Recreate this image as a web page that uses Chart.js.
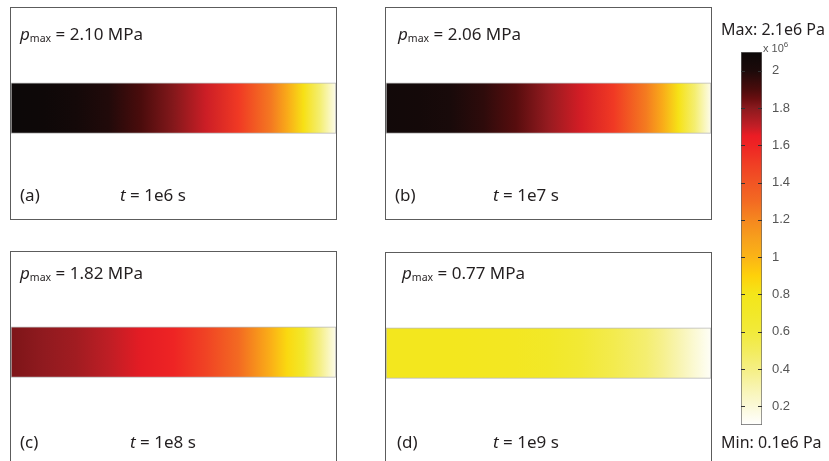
<!DOCTYPE html>
<html>
<head>
<meta charset="utf-8">
<script src="https://cdn.jsdelivr.net/npm/chart.js@4.4.1/dist/chart.umd.min.js"></script>
<style>
  body { margin: 0; background: #fff; }
  #wrap { position: relative; width: 829px; height: 461px; overflow: hidden; background: #fff; }
  .panel { position: absolute; border: 1px solid #5c5c5c; box-sizing: border-box; width: 327px; height: 213px; }
  .panel canvas { position: absolute; left: 0; top: 0; }
  .txt { position: absolute; white-space: nowrap; font-family: "Noto Sans", sans-serif; font-size: 17px;
         line-height: 20px; color: #231f20; }
  .txt sub { font-size: 10.5px; vertical-align: -2px; line-height: 0; }
  .cb { position: absolute; white-space: nowrap; font-family: "Liberation Sans", Arial, sans-serif; color: #555; }
</style>
</head>
<body>
<div id="wrap">
  <div class="panel" style="left:10px; top:7px;"><canvas id="ca" width="325" height="211"></canvas></div>
  <div class="panel" style="left:385px; top:7px;"><canvas id="cbb" width="325" height="211"></canvas></div>
  <div class="panel" style="left:10px; top:251px;"><canvas id="cc" width="325" height="211"></canvas></div>
  <div class="panel" style="left:385px; top:252px;"><canvas id="cd" width="325" height="211"></canvas></div>
  <canvas id="bar" width="94" height="400" style="position:absolute; left:735px; top:40px;"></canvas>
</div>
<script>
// data

// position along the strip (0 = left end, 1 = right end)
const positions = [0, 0.1, 0.2, 0.3, 0.4, 0.5, 0.6, 0.7, 0.8, 0.85, 0.9, 0.95, 1];

// pressure along the strip, x 1e6 Pa
const pressureA = [2.10, 2.09, 2.05, 1.99, 1.90, 1.81, 1.69, 1.52, 1.25, 1.05, 0.83, 0.45, 0.15];
const pressureB = [2.06, 2.05, 2.02, 1.96, 1.88, 1.78, 1.68, 1.52, 1.24, 1.05, 0.82, 0.45, 0.15];
const pressureC = [1.82, 1.79, 1.76, 1.71, 1.66, 1.60, 1.48, 1.30, 1.02, 0.86, 0.68, 0.40, 0.15];
const pressureD = [0.77, 0.77, 0.77, 0.76, 0.74, 0.70, 0.63, 0.54, 0.45, 0.38, 0.30, 0.21, 0.12];

const panelLetters = ["a", "b", "c", "d"];
const pmaxLabels = ["2.10", "2.06", "1.82", "0.77"];
const timeLabels = ["1e6", "1e7", "1e8", "1e9"];

// colour bar
const cbMin = 0.1;
const cbMax = 2.1;
const cbTicks = [0.2, 0.4, 0.6, 0.8, 1.0, 1.2, 1.4, 1.6, 1.8, 2.0];
const maxLabel = "Max: 2.1e6 Pa";
const minLabel = "Min: 0.1e6 Pa";

// colormap stops (value -> colour)
const cmapValues = [0.1, 0.2, 0.3, 0.4, 0.5, 0.6, 0.7, 0.8, 0.9, 1.0, 1.1, 1.2, 1.3, 1.4, 1.5, 1.6, 1.65, 1.7, 1.8, 1.85, 1.9, 2.0, 2.1];
const cmapColors = ["#ffffff", "#fbf9d8", "#f8f4b0", "#f5ef84", "#f3ec5c", "#f2ea3a", "#f2e828", "#f4e61a",
  "#fed10a", "#fbb416", "#f7a01c", "#f5871f", "#f36a22", "#f15524", "#f03e24", "#ee2424", "#ec1c24",
  "#c41e26", "#8a1a1e", "#6a0e10", "#4a0c0c", "#1c0a0a", "#0c0808"];

// strip place inside each panel (fraction of panel height, from top)
const STRIP_TOP = 0.355;
const STRIP_BOTTOM = 0.594;

function hexToRgb(h) {
    return [parseInt(h.substr(1, 2), 16), parseInt(h.substr(3, 2), 16), parseInt(h.substr(5, 2), 16)];
}

function cmap(v) {
    if (v <= cmapValues[0]) return cmapColors[0];
    for (let i = 1; i < cmapValues.length; i++) {
        if (v <= cmapValues[i]) {
            const f = (v - cmapValues[i - 1]) / (cmapValues[i] - cmapValues[i - 1]);
            const a = hexToRgb(cmapColors[i - 1]);
            const b = hexToRgb(cmapColors[i]);
            const c = a.map((x, k) => Math.round(x + (b[k] - x) * f));
            return "rgb(" + c.join(",") + ")";
        }
    }
    return cmapColors[cmapColors.length - 1];
}

function stripGradient(chart, pos, pres) {
    const xs = chart.scales.xp;
    if (!xs || !chart.chartArea) return null;
    const x0 = xs.getPixelForValue(0);
    const x1 = xs.getPixelForValue(1);
    const g = chart.ctx.createLinearGradient(x0, 0, x1, 0);
    pos.forEach((p, i) => g.addColorStop(p, cmap(pres[i])));
    return g;
}

function buildPanel(canvasId, pres) {
    return new Chart(document.getElementById(canvasId), {
        type: 'bar',
        data: {
            labels: ["strip"],
            datasets: [{
                data: [[STRIP_TOP, STRIP_BOTTOM]],
                xAxisID: 'x',
                backgroundColor: c => stripGradient(c.chart, positions, pres),
                borderColor: "#b8b8b8",
                borderWidth: 1,
                borderSkipped: false,
                barPercentage: 1,
                categoryPercentage: 1
            }]
        },
        options: {
            responsive: false,
            animation: false,
            layout: { padding: 0 },
            plugins: { legend: { display: false }, tooltip: { enabled: false } },
            scales: {
                x: { display: false },
                // position scale along the strip, used for the colour stops
                xp: { type: 'linear', axis: 'x', min: 0, max: 1, offset: false, display: false },
                y: { min: 0, max: 1, reverse: true, display: false }
            }
        }
    });
}

buildPanel("ca", pressureA);
buildPanel("cbb", pressureB);
buildPanel("cc", pressureC);
buildPanel("cd", pressureD);

// panel texts
const wrap = document.getElementById("wrap");
const textPos = [
    { px: 20, py: 34, lx: 20, ly: 195, tx: 120 },
    { px: 398, py: 34, lx: 395, ly: 195, tx: 493 },
    { px: 20, py: 273, lx: 20, ly: 442, tx: 130 },
    { px: 402, py: 273, lx: 397, ly: 442, tx: 493 }
];

function addText(html, x, cy, cls) {
    const d = document.createElement("div");
    d.className = cls || "txt";
    d.innerHTML = html;
    d.style.left = x + "px";
    d.style.top = (cy - 10) + "px";
    wrap.appendChild(d);
    return d;
}

textPos.forEach((t, i) => {
    addText("<i>p</i><sub>max</sub> = " + pmaxLabels[i] + " MPa", t.px, t.py);
    addText("(" + panelLetters[i] + ")", t.lx, t.ly);
    addText("<i>t</i> = " + timeLabels[i] + " s", t.tx, t.ly);
});

const mx = addText(maxLabel, 721, 29);
const mn = addText(minLabel, 721, 442);
mx.style.fontSize = "16px";
mn.style.fontSize = "16px";
const ex = addText("x 10<sup style='font-size:8px; vertical-align:5px; line-height:0'>6</sup>", 763, 52, "cb");
ex.style.fontSize = "11px";

// colour bar ticks inside the bar
const innerTicks = {
    id: 'innerTicks',
    afterDatasetsDraw(chart) {
        const ys = chart.scales.y;
        const bar = chart.getDatasetMeta(0).data[0];
        if (!bar) return;
        const left = bar.x - bar.width / 2;
        const right = bar.x + bar.width / 2;
        const ctx = chart.ctx;
        ctx.save();
        ctx.strokeStyle = "#333";
        ctx.lineWidth = 1;
        ys.ticks.forEach(t => {
            const y = Math.round(ys.getPixelForValue(t.value)) + 0.5;
            ctx.beginPath();
            ctx.moveTo(left, y); ctx.lineTo(left + 4, y);
            ctx.moveTo(right - 4, y); ctx.lineTo(right, y);
            ctx.stroke();
        });
        ctx.restore();
    }
};

new Chart(document.getElementById("bar"), {
    type: 'bar',
    data: {
        labels: ["p"],
        datasets: [{
            data: [[cbMin, cbMax]],
            backgroundColor: c => {
                const ch = c.chart;
                if (!ch.chartArea) return null;
                const ys = ch.scales.y;
                const g = ch.ctx.createLinearGradient(0, ys.getPixelForValue(cbMin), 0, ys.getPixelForValue(cbMax));
                cmapValues.forEach((v, i) => g.addColorStop((v - cbMin) / (cbMax - cbMin), cmapColors[i]));
                return g;
            },
            borderColor: "#666",
            borderWidth: 1,
            borderSkipped: false,
            barPercentage: 1,
            categoryPercentage: 1
        }]
    },
    options: {
        responsive: false,
        animation: false,
        layout: { padding: { left: 6, top: 12, bottom: 15, right: 0 } },
        plugins: { legend: { display: false }, tooltip: { enabled: false } },
        scales: {
            x: { display: false },
            y: {
                position: 'right',
                min: cbMin,
                max: cbMax,
                afterBuildTicks: s => { s.ticks = cbTicks.map(v => ({ value: v })); },
                afterFit: s => { s.width = 67; },
                grid: { display: false },
                border: { display: false },
                ticks: {
                    padding: 2,
                    color: "#555",
                    font: { family: "Liberation Sans", size: 13 },
                    callback: v => String(+Number(v).toFixed(1))
                }
            }
        }
    },
    plugins: [innerTicks]
});
</script>
</body>
</html>
